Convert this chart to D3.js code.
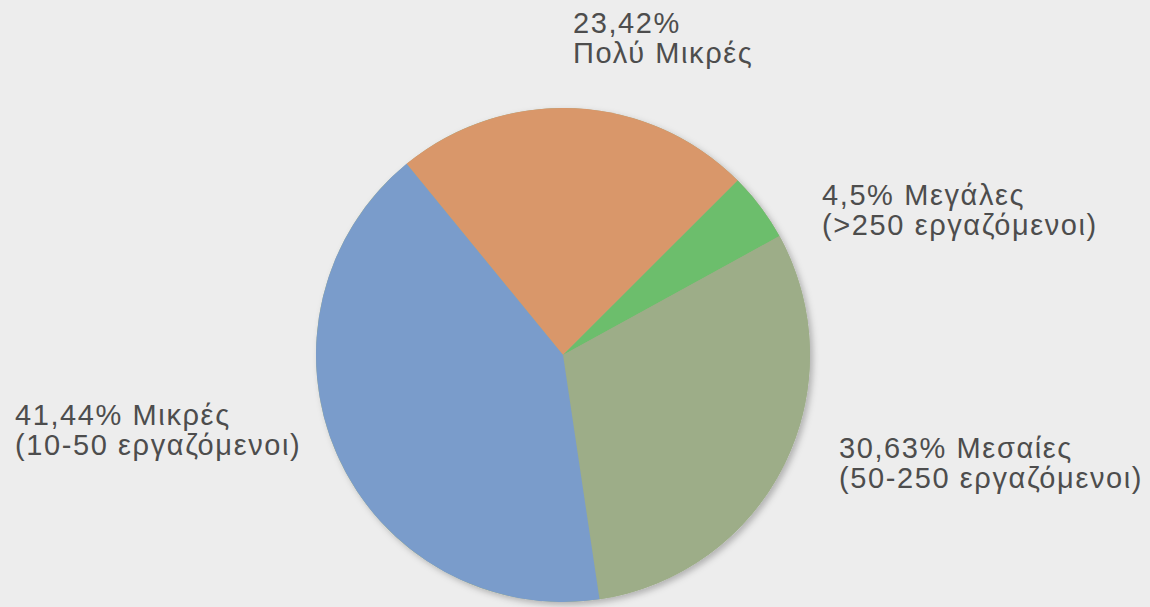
<!DOCTYPE html>
<html><head><meta charset="utf-8">
<script src="https://cdn.jsdelivr.net/npm/d3@7"></script>
<style>
html,body{margin:0;padding:0;background:#ededed;}
svg{display:block;}
</style></head>
<body>
<svg id="chart" width="1150" height="607"></svg>
<script>
const categories = ["Πολύ Μικρές", "Μεγάλες", "Μεσαίες", "Μικρές"];
const values = [23.42, 4.5, 30.63, 41.44];
const labelLine1 = ["23,42%", "4,5% Μεγάλες", "30,63% Μεσαίες", "41,44% Μικρές"];
const labelLine2 = ["Πολύ Μικρές", "(>250 εργαζόμενοι)", "(50-250 εργαζόμενοι)", "(10-50 εργαζόμενοι)"];
const colors = ["#d9976a", "#6cbe6c", "#9dad88", "#7a9ccb"];

const W = 1150, H = 607;
const cx = 563, cy = 355, R = 247;
const startDeg = -39.3;

const svg = d3.select("#chart");
svg.append("rect").attr("width", W).attr("height", H).attr("fill", "#ededed");

const defs = svg.append("defs");
const f = defs.append("filter").attr("id", "sh").attr("x", "-10%").attr("y", "-10%").attr("width", "120%").attr("height", "120%");
f.append("feDropShadow").attr("dx", 3).attr("dy", 3).attr("stdDeviation", 3).attr("flood-color", "#000").attr("flood-opacity", 0.25);

const data = categories.map((c, i) => ({name: c, value: values[i], color: colors[i], l1: labelLine1[i], l2: labelLine2[i]}));

const pie = d3.pie().value(d => d.value).sort(null)
  .startAngle(startDeg * Math.PI / 180)
  .endAngle(startDeg * Math.PI / 180 + 2 * Math.PI);
const arc = d3.arc().innerRadius(0).outerRadius(R);

const g = svg.append("g").attr("transform", `translate(${cx},${cy})`);
g.append("circle").attr("r", R).attr("fill", "#9dad88").attr("filter", "url(#sh)");
g.selectAll("path").data(pie(data)).join("path")
  .attr("d", arc).attr("fill", d => d.data.color);

// label positions (left x, first baseline)
const labelPos = [[573, 33], [822, 205], [839, 458], [15, 425]];
const lg = svg.append("g").attr("font-family", "'Liberation Sans', Arial, sans-serif")
  .attr("font-size", 29).attr("letter-spacing", 1.6).attr("fill", "#4d4d4d");
data.forEach((d, i) => {
  const t = lg.append("text").attr("x", labelPos[i][0]).attr("y", labelPos[i][1]);
  t.append("tspan").attr("x", labelPos[i][0]).text(d.l1);
  t.append("tspan").attr("x", labelPos[i][0]).attr("dy", 30).text(d.l2);
});
</script>
</body></html>
